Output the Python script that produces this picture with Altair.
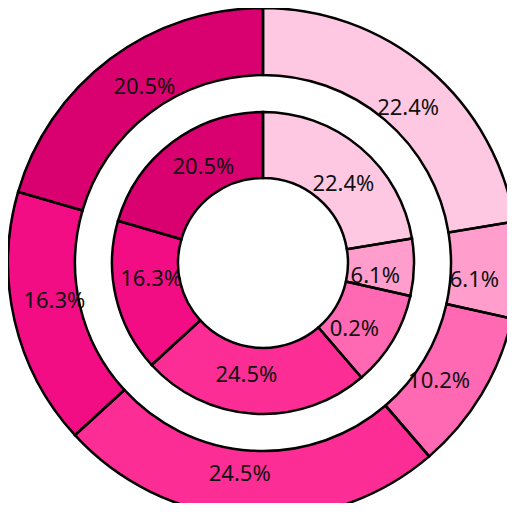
import altair as alt
import pandas as pd

# Slice order runs clockwise from 12 o'clock
outer_values = [22.4, 6.1, 10.2, 24.5, 16.3, 20.5]
outer_labels = ["22.4%", "6.1%", "10.2%", "24.5%", "16.3%", "20.5%"]
inner_values = [22.4, 6.1, 10.2, 24.5, 16.3, 20.5]
inner_labels = ["22.4%", "6.1%", "0.2%", "24.5%", "16.3%", "20.5%"]
slice_colors = ["#FFC8E2", "#FF9ECD", "#FF69B4", "#FC2E95", "#F20D84", "#D9006F"]

rows = []
for ring, vals, labs in (("outer", outer_values, outer_labels), ("inner", inner_values, inner_labels)):
    for i, (v, l) in enumerate(zip(vals, labs)):
        rows.append({"ring": ring, "idx": i, "value": v, "label": l})
df = pd.DataFrame(rows)

theta_scale = alt.Scale(domain=[0, 1])
color_enc = alt.Color("idx:N", scale=alt.Scale(domain=list(range(len(slice_colors))), range=slice_colors), legend=None)

base = (
    alt.Chart(df)
    .transform_window(cum="sum(value)", groupby=["ring"], sort=[alt.SortField("idx")], frame=[None, 0])
    .transform_joinaggregate(total="sum(value)", groupby=["ring"])
    .transform_calculate(
        start="(datum.cum - datum.value) / datum.total",
        end="datum.cum / datum.total",
    )
    .transform_calculate(mid="(datum.start + datum.end) / 2")
)

CX, CY = 255, 255
R_OUT, R_OUT_IN = 255, 188
R_IN, R_IN_IN = 151, 85
T_OUT, T_IN = 212, 113
# small clockwise nudge of the label positions (fraction of a turn)
NUDGE_OUT, NUDGE_IN = 0.008, 0.014

def ring_layers(ring, r, r2, rt, nudge):
    b = base.transform_filter(alt.datum.ring == ring)
    fill = b.mark_arc(strokeWidth=0).encode(
        x=alt.value(CX), y=alt.value(CY),
        theta=alt.Theta("start:Q", scale=theta_scale),
        theta2="end:Q",
        radius=alt.value(r),
        radius2=alt.value(r2),
        color=color_enc,
    )
    text = b.transform_calculate(tpos=f"datum.mid + {nudge}").mark_text(
        fontSize=22, font="Noto Sans", color="#111111"
    ).encode(
        x=alt.value(CX), y=alt.value(CY),
        theta=alt.Theta("tpos:Q", scale=theta_scale),
        radius=alt.value(rt),
        text="label:N",
    )
    stroke = b.mark_arc(fill="transparent", stroke="black", strokeWidth=2.5).encode(
        x=alt.value(CX), y=alt.value(CY),
        theta=alt.Theta("start:Q", scale=theta_scale),
        theta2="end:Q",
        radius=alt.value(r),
        radius2=alt.value(r2),
    )
    return fill, text, stroke

of, ot, os_ = ring_layers("outer", R_OUT, R_OUT_IN, T_OUT, NUDGE_OUT)
inf, it, is_ = ring_layers("inner", R_IN, R_IN_IN, T_IN, NUDGE_IN)

chart = (
    alt.layer(of, inf, ot, it, os_, is_)
    .properties(width=499, height=495, padding=0, autosize=alt.AutoSizeParams(type="none"))
    .configure_view(stroke=None)
)

chart.save("out.html", embed_options={"renderer": "svg", "actions": False})
